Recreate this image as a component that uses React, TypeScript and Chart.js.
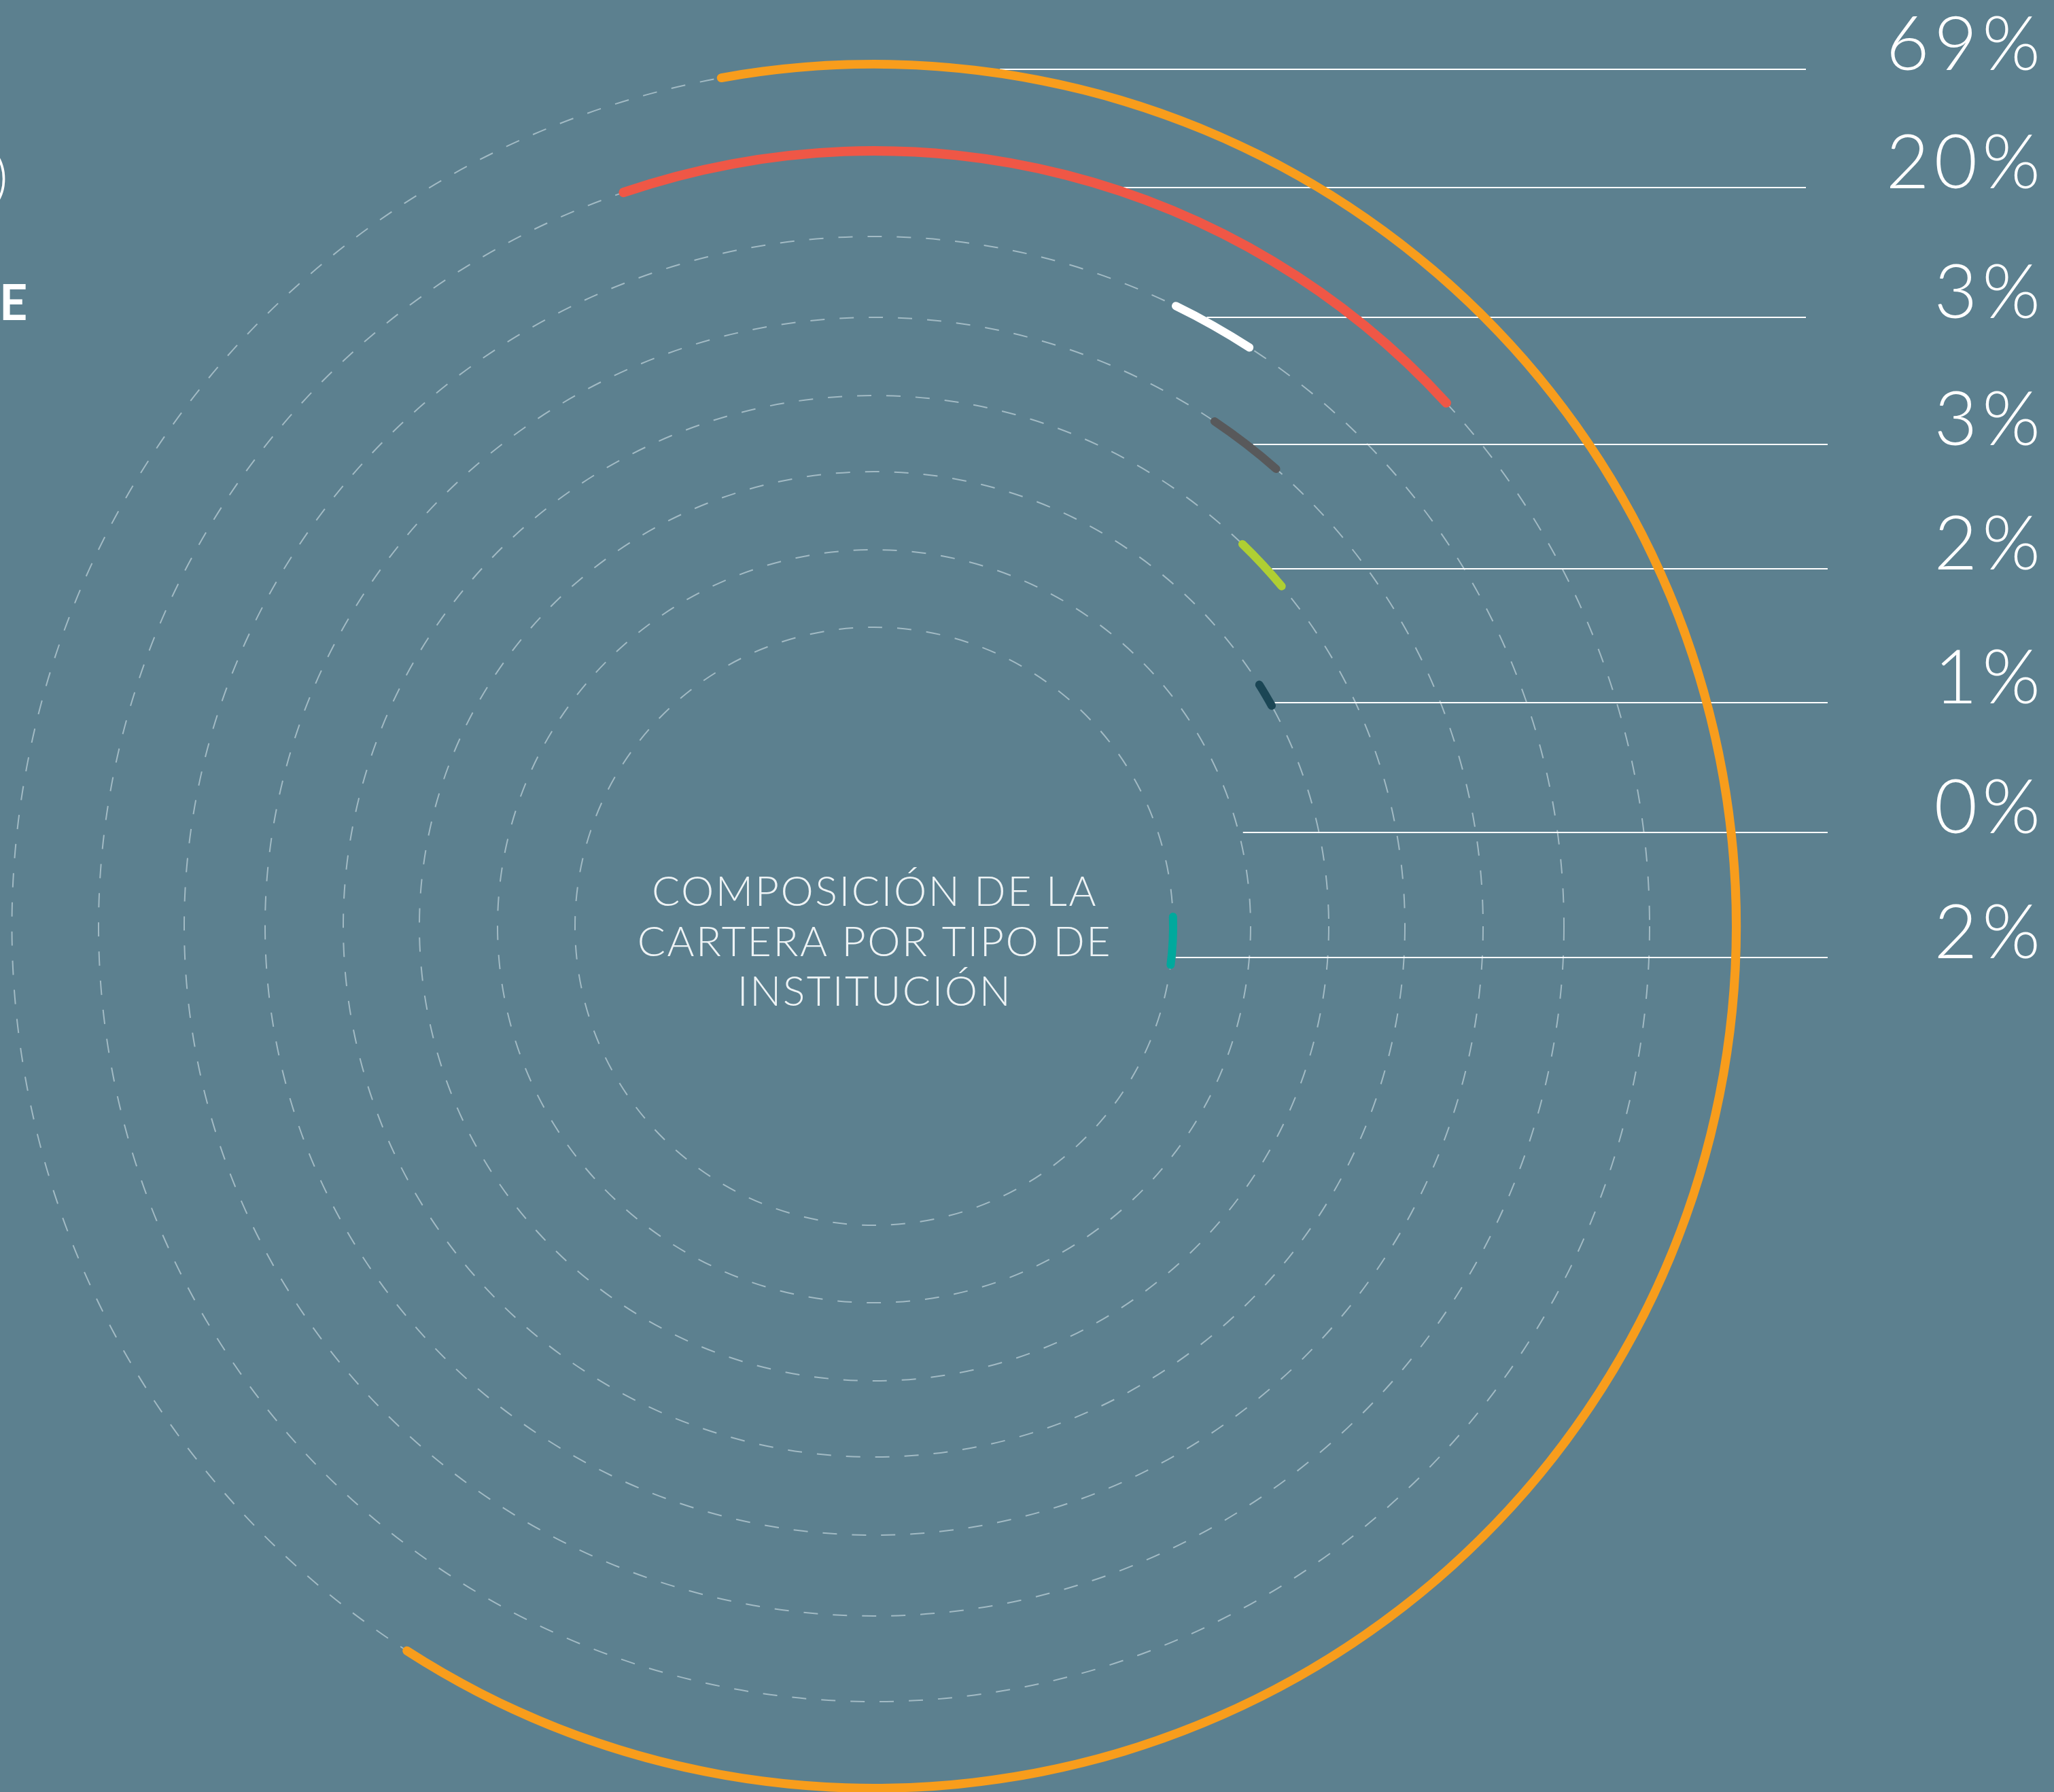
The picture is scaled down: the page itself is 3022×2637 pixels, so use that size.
import React, { useEffect, useRef } from 'react';
import { Chart, registerables } from 'chart.js';

Chart.register(...registerables);

// ---------- data ----------
const categories = ['Tipo 1', 'Tipo 2', 'Tipo 3', 'Tipo 4', 'Tipo 5', 'Tipo 6', 'Tipo 7', 'Tipo 8'];
const values = [69, 20, 3, 3, 2, 1, 0, 2];
// angular extent of each arc as drawn (degrees, clockwise from 12 o'clock)
const arcStartDeg = [-10.5, -19.2, 25.6, 33.6, 43.5, 57.4, 70, 87.4];
const arcSweepDeg = [223.6, 67.1, 7.7, 8.1, 7.1, 4.1, 0, 10.8];
const centerTitle = ['COMPOSICIÓN DE LA', 'CARTERA POR TIPO DE', 'INSTITUCIÓN'];

// ---------- styles ----------
const BG = '#5c808f';
const arcColors = ['#f89d1c', '#ef5746', '#ffffff', '#58595b', '#afcf33', '#1b4655', '#8fa9b4', '#00a99d'];
const DASH_COLOR = '#a2bac4';

// ---------- layout ----------
const W = 3022;
const H = 2637;
const CANVAS_H = 2700;
const CX = 1286;
const CY = 1363;
const ringRadius = [1268.5, 1141, 1015, 896, 781, 669, 554, 440];
const ringWidth = [13, 14, 12, 12, 12, 12, 12, 12];
const R_OUT = ringRadius[0] + ringWidth[0] / 2;
const CUTOUT = ringRadius[ringRadius.length - 1] - ringWidth[ringWidth.length - 1] / 2;
const labelY = [102, 276, 467, 654, 837, 1034, 1225, 1409];
const lineEndX = [2657, 2657, 2657, 2689, 2689, 2689, 2689, 2689];
const LABEL_RIGHT = 3002;

function buildDatasets() {
  const datasets: any[] = [];
  const arcIndex: number[] = [];
  for (let i = 0; i < values.length; i++) {
    if (i > 0) {
      const prevInner = ringRadius[i - 1] - ringWidth[i - 1] / 2;
      const thisOuter = ringRadius[i] + ringWidth[i] / 2;
      datasets.push({
        label: 'spacer',
        data: [1],
        backgroundColor: 'rgba(0,0,0,0)',
        borderWidth: 0,
        weight: prevInner - thisOuter,
        rotation: 0,
        circumference: 360,
      });
    }
    arcIndex.push(datasets.length);
    datasets.push({
      label: categories[i],
      data: [values[i]],
      backgroundColor: arcColors[i],
      borderWidth: 0,
      borderRadius: ringWidth[i] / 2,
      weight: ringWidth[i],
      rotation: arcStartDeg[i],
      circumference: arcSweepDeg[i],
    });
  }
  return { datasets, arcIndex };
}

export default function App() {
  const ref = useRef<HTMLCanvasElement>(null);

  useEffect(() => {
    const { datasets, arcIndex } = buildDatasets();

    const overlay = {
      id: 'overlay',
      beforeDatasetsDraw(chart: any) {
        const ctx = chart.ctx;
        ctx.save();
        ctx.strokeStyle = '#ffffff';
        ctx.lineWidth = 2;
        arcIndex.forEach((dsIdx, i) => {
          const arc = chart.getDatasetMeta(dsIdx).data[0];
          const x = arc.x;
          const y = arc.y;
          const r = (arc.outerRadius + arc.innerRadius) / 2 + 6;
          const dy = labelY[i] - y;
          const x0 = x + Math.sqrt(Math.max(r * r - dy * dy, 0));
          ctx.beginPath();
          ctx.moveTo(x0, labelY[i]);
          ctx.lineTo(lineEndX[i], labelY[i]);
          ctx.stroke();
        });
        ctx.restore();
      },
      afterDraw(chart: any) {
        const ctx = chart.ctx;
        ctx.save();
        // percentage labels
        ctx.fillStyle = '#ffffff';
        ctx.font = '300 110px Lato';
        (ctx as any).letterSpacing = '7px';
        ctx.textAlign = 'right';
        ctx.textBaseline = 'alphabetic';
        values.forEach((v, i) => {
          ctx.fillText(`${v}%`, LABEL_RIGHT + 7, labelY[i] + 1);
        });
        // center title
        const c = chart.getDatasetMeta(arcIndex[0]).data[0];
        ctx.fillStyle = '#eef3f5';
        ctx.font = '300 61px Lato';
        (ctx as any).letterSpacing = '2.5px';
        ctx.textAlign = 'center';
        centerTitle.forEach((line, i) => {
          ctx.fillText(line, c.x + 1, 1333 + i * 73.5);
        });
        (ctx as any).letterSpacing = '0px';
        // fragments of text cut by the left edge
        ctx.fillStyle = '#ffffff';
        ctx.textAlign = 'right';
        ctx.font = '300 84px Lato';
        ctx.fillText(')', 12, 290);
        ctx.textAlign = 'left';
        ctx.font = '700 72px Lato';
        ctx.fillText('E', -1, 471);
        ctx.restore();
      },
    };

    const chart = new Chart(ref.current as HTMLCanvasElement, {
      type: 'doughnut',
      data: { labels: categories, datasets },
      options: {
        responsive: false,
        animation: false,
        devicePixelRatio: 1,
        events: [],
        cutout: CUTOUT,
        layout: {
          padding: {
            left: CX - R_OUT,
            top: CY - R_OUT,
            right: W - (CX + R_OUT),
            bottom: CANVAS_H - (CY + R_OUT),
          },
        },
        elements: {
          arc: { borderWidth: 0, hoverBorderWidth: 0, offset: 0, hoverOffset: 0 } as any,
        },
        plugins: {
          legend: { display: false },
          tooltip: { enabled: false },
        },
        scales: {
          r: {
            type: 'radialLinear',
            axis: 'r',
            display: true,
            min: 0,
            max: R_OUT,
            ticks: { display: false },
            pointLabels: { display: false },
            angleLines: { display: false },
            grid: { circular: true, color: DASH_COLOR, lineWidth: 2, borderDash: [21, 22] } as any,
            border: { dash: [21, 22] } as any,
            afterBuildTicks: (scale: any) => {
              scale.ticks = [{ value: 0 }, ...ringRadius.map((v) => ({ value: v }))];
            },
          } as any,
        },
      } as any,
      plugins: [overlay],
    });
    return () => chart.destroy();
  }, []);

  return (
    <div
      style={{
        position: 'absolute',
        left: 0,
        top: 0,
        width: W,
        height: H,
        overflow: 'hidden',
        background: BG,
      }}
    >
      <canvas ref={ref} width={W} height={CANVAS_H} style={{ display: 'block', width: W, height: CANVAS_H }} />
    </div>
  );
}
